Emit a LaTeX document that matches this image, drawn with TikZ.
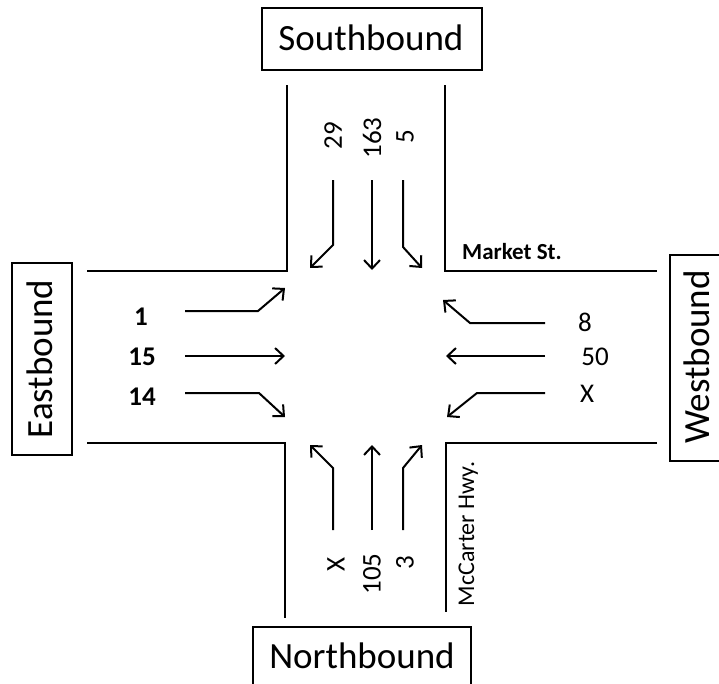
\documentclass[tikz,border=0pt]{standalone}
\usepackage{fontspec}
\setmainfont{Carlito}
\usetikzlibrary{arrows.meta}
\begin{document}
\begin{tikzpicture}[x=1pt,y=-1pt,
  road/.style={line width=2.8pt},
  flow/.style={line width=2pt,-{Straight Barb[length=8.5pt,width=16pt,line width=2pt]}},
  num/.style={font=\fontsize{27}{32}\selectfont, inner sep=0pt},
  bnum/.style={font=\fontsize{27}{32}\selectfont\bfseries, inner sep=0pt},
  dirbox/.style={line width=1.5pt},
  dirtext/.style={font=\fontsize{37}{44}\selectfont, inner sep=0pt, anchor=base}]
\useasboundingbox (0,0) rectangle (719,683);

% direction boxes
\draw[dirbox] (262,8) rectangle (482,70);
\node[dirtext] (sb) at (371,50) {Southbound};
\draw[dirbox] (253,627) rectangle (471,700);
\node[dirtext] (nb) at (362,668) {Northbound};
\draw[dirbox] (12,263) rectangle (72,455);
\node[dirtext, rotate=90] (eb) at (52,359) {Eastbound};
\draw[dirbox] (670,255) rectangle (740,461);
\node[dirtext, rotate=90] (wb) at (709,357) {Westbound};

% roads
\draw[road] (287,85) -- (287,271) -- (87,271);
\draw[road] (445,85) -- (445,271) -- (657,271);
\draw[road] (87,443) -- (285,443) -- (285,618);
\draw[road] (657,443) -- (446,443) -- (446,612);

% street names
\node[font=\fontsize{23}{27}\selectfont\bfseries, inner sep=0pt] (mk) at (512,252) {Market St.};
\node[font=\fontsize{24}{28}\selectfont, inner sep=0pt, rotate=90, anchor=base] (mc) at (474,534) {McCarter Hwy.};

% southbound lanes
\draw[flow] (333,180) -- (333,245) -- (310,268);
\draw[flow] (372,180) -- (372,270);
\draw[flow] (403,180) -- (403,247) -- (422,268);
\node[num, rotate=90] (s1) at (333,136) {29};
\node[num, rotate=90] (s2) at (372,138) {163};
\node[num, rotate=90] (s3) at (405,137) {5};

% eastbound lanes
\draw[flow] (185,311) -- (258,311) -- (285,288);
\draw[flow] (185,356) -- (285,356);
\draw[flow] (185,393) -- (259,393) -- (285,417);
\node[bnum] (e1) at (141,317) {1};
\node[bnum] (e2) at (142,357) {15};
\node[bnum] (e3) at (142,397) {14};

% westbound lanes
\draw[flow] (545,323) -- (470,323) -- (443,300);
\draw[flow] (545,356) -- (446,356);
\draw[flow] (545,393) -- (477,393) -- (447,417);
\node[num] (w1) at (585,322) {8};
\node[num] (w2) at (595,357) {50};
\node[num] (w3) at (587,394) {X};

% northbound lanes
\draw[flow] (333,530) -- (333,468) -- (310,445);
\draw[flow] (372,530) -- (372,445);
\draw[flow] (403,530) -- (403,468) -- (422,445);
\node[num, rotate=90] (n1) at (336,564) {X};
\node[num, rotate=90] (n2) at (372,574) {105};
\node[num, rotate=90] (n3) at (405,563) {3};
\end{tikzpicture}
\end{document}
